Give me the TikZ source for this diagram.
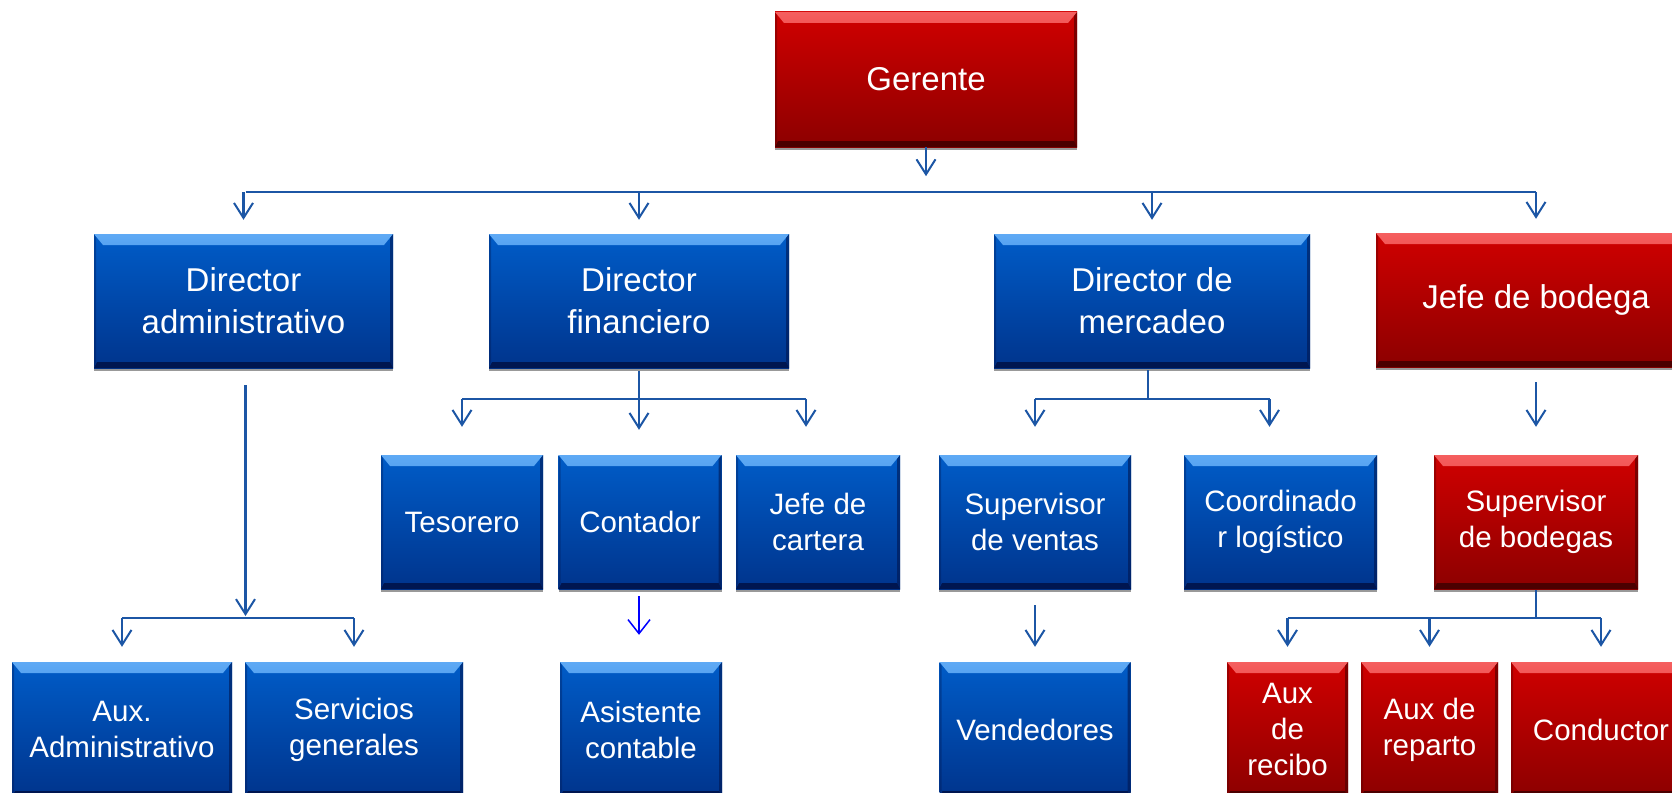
\documentclass[tikz,border=0pt]{standalone}
\usepackage{fontspec}
\setmainfont{Liberation Sans}
\usetikzlibrary{calc,arrows.meta,shadows}
\definecolor{blueHL}{RGB}{95,170,245}
\definecolor{blueTop}{RGB}{0,92,200}
\definecolor{blueBot}{RGB}{0,52,140}
\definecolor{blueDark}{RGB}{0,22,80}
\definecolor{redHL}{RGB}{245,95,95}
\definecolor{redTop}{RGB}{208,0,0}
\definecolor{redBot}{RGB}{140,0,0}
\definecolor{redDark}{RGB}{75,0,0}
\definecolor{lineC}{RGB}{28,86,165}
\tikzset{
  bevel/.style n args={4}{rectangle, inner sep=0pt, text=white, align=center,
    top color=#2, bottom color=#3,
    drop shadow={shadow xshift=0pt, shadow yshift=-3pt, fill=gray!80, opacity=1},
    path picture={
      \shade[top color=#1, bottom color=#2]
        (path picture bounding box.north west) -- (path picture bounding box.north east)
        -- ([xshift=-9pt,yshift=-11pt]path picture bounding box.north east)
        -- ([xshift=9pt,yshift=-11pt]path picture bounding box.north west) -- cycle;
      \fill[#4]
        (path picture bounding box.south west) -- (path picture bounding box.south east)
        -- ([xshift=-3pt,yshift=6pt]path picture bounding box.south east)
        -- ([xshift=3pt,yshift=6pt]path picture bounding box.south west) -- cycle;
      \fill[#4, opacity=0.6]
        (path picture bounding box.south east) -- (path picture bounding box.north east)
        -- ([xshift=-3pt,yshift=-4pt]path picture bounding box.north east)
        -- ([xshift=-3pt,yshift=6pt]path picture bounding box.south east) -- cycle;
      \fill[#4, opacity=0.35]
        (path picture bounding box.south west) -- (path picture bounding box.north west)
        -- ([xshift=2pt,yshift=-4pt]path picture bounding box.north west)
        -- ([xshift=2pt,yshift=6pt]path picture bounding box.south west) -- cycle;
    }},
  bluebox/.style={bevel={blueHL}{blueTop}{blueBot}{blueDark}},
  redbox/.style={bevel={redHL}{redTop}{redBot}{redDark}},
  bigtext/.style={font=\fontsize{33}{42}\selectfont},
  smalltext/.style={font=\fontsize{29.5}{36}\selectfont},
  lvlA/.style={minimum height=134pt, bigtext},
  lvlB/.style={minimum height=134pt, smalltext},
  conn/.style={draw=lineC, line width=2.2pt},
  arr/.style={conn, -{Straight Barb[length=15pt,width=19pt,line width=2pt]}},
  thinarr/.style={draw={rgb,255:red,0;green,0;blue,255}, line width=1.5pt,
    -{Straight Barb[length=14pt,width=22pt,line width=1.5pt]}},
}
\begin{document}
\begin{tikzpicture}[x=1pt,y=-1pt]
\useasboundingbox (0,0) rectangle (1672,792);
\clip (0,0) rectangle (1672,792);
% level 0
\node[redbox, lvlA, minimum width=302pt, minimum height=135pt] (G) at (926,79.5) {Gerente};
% level 1
\node[bluebox, lvlA, minimum width=299pt] (DA) at (243.5,301) {Director\\administrativo};
\node[bluebox, lvlA, minimum width=300pt] (DF) at (639,301) {Director\\financiero};
\node[bluebox, lvlA, minimum width=316pt] (DM) at (1152,301) {Director de\\mercadeo};
\node[redbox, lvlA, minimum width=320pt] (JB) at (1536,300) {Jefe de bodega};
% level 2
\node[bluebox, lvlB, minimum width=162pt] (Tes) at (462,522) {Tesorero};
\node[bluebox, lvlB, minimum width=163pt] (Con) at (640,522) {Contador};
\node[bluebox, lvlB, minimum width=164pt] (JC) at (818,522) {Jefe de\\cartera};
\node[bluebox, lvlB, minimum width=192pt] (SV) at (1035,522) {Supervisor\\de ventas};
\node[bluebox, lvlB, minimum width=193pt] (CL) at (1280.5,522) {Coordinado\\r logístico};
\node[redbox, lvlB, minimum width=204pt] (SB) at (1536,522) {Supervisor\\de bodegas};
% level 3
\node[bluebox, lvlB, minimum width=220pt, minimum height=135pt] (AA) at (122,729.5) {Aux.\\Administrativo};
\node[bluebox, lvlB, minimum width=218pt, minimum height=135pt] (SG) at (354,729.5) {Servicios\\generales};
\node[bluebox, lvlB, minimum width=162pt, minimum height=135pt] (AC) at (641,729.5) {Asistente\\contable};
\node[bluebox, lvlB, minimum width=191pt, minimum height=135pt] (Ven) at (1035,729.5) {Vendedores};
\node[redbox, lvlB, minimum width=121pt, minimum height=135pt] (AR) at (1287.5,729.5) {Aux\\de\\recibo};
\node[redbox, lvlB, minimum width=137pt, minimum height=135pt] (AP) at (1429.5,729.5) {Aux de\\reparto};
\node[redbox, lvlB, minimum width=180pt, minimum height=135pt] (Cd) at (1601,729.5) {Conductor};
% Gerente -> directors
\coordinate (gb) at (927,192);
\draw[arr] (G.south) -- ($(G.south)+(0,29)$);
\draw[conn] ($(DA.north |- gb)+(2,0)$) -- (JB.north |- gb);
\foreach \n in {DA,DF,DM,JB}
  \draw[arr] (\n.north |- gb) -- ($(\n.north)+(0,-14)$);
% Director administrativo
\coordinate (dab) at (246,618);
\draw[arr] ($(DA.south)+(2,17)$) -- ($(DA.south |- dab)+(2,-2)$);
\draw[conn] (AA.north |- dab) -- (SG.north |- dab);
\foreach \n in {AA,SG}
  \draw[arr] (\n.north |- dab) -- ($(\n.north)+(0,-15)$);
% Director financiero
\coordinate (dfb) at (639,399);
\draw[conn] ($(DF.south)+(0,3)$) -- (DF.south |- dfb);
\draw[conn] (Tes.north |- dfb) -- ($(JC.north |- dfb)+(-12,0)$);
\draw[arr] (Tes.north |- dfb) -- ($(Tes.north)+(0,-28)$);
\draw[arr] (DF.south |- dfb) -- ($(Con.north)+(-1,-25)$);
\draw[arr] ($(JC.north |- dfb)+(-12,0)$) -- ($(JC.north)+(-12,-28)$);
\draw[thinarr] ($(Con.south)+(-1,7)$) -- ($(AC.north)+(-2,-27)$);
% Director de mercadeo
\coordinate (dmb) at (1148,399);
\draw[conn] ($(DM.south)+(-4,2)$) -- ($(DM.south |- dmb)+(-4,0)$);
\draw[conn] (SV.north |- dmb) -- ($(CL.north |- dmb)+(-11,0)$);
\draw[arr] (SV.north |- dmb) -- ($(SV.north)+(0,-28)$);
\draw[arr] ($(CL.north |- dmb)+(-11,0)$) -- ($(CL.north)+(-11,-28)$);
\draw[arr] ($(SV.south)+(0,16)$) -- ($(Ven.north)+(0,-15)$);
% Jefe de bodega
\draw[arr] ($(SB.north |- JB.south)+(0,15)$) -- ($(SB.north)+(0,-28)$);
\coordinate (sbb) at (1536,618);
\draw[conn] ($(SB.south)+(0,1)$) -- (SB.south |- sbb);
\draw[conn] (AR.north |- sbb) -- (Cd.north |- sbb);
\foreach \n in {AR,AP,Cd}
  \draw[arr] (\n.north |- sbb) -- ($(\n.north)+(0,-15)$);
\end{tikzpicture}
\end{document}
